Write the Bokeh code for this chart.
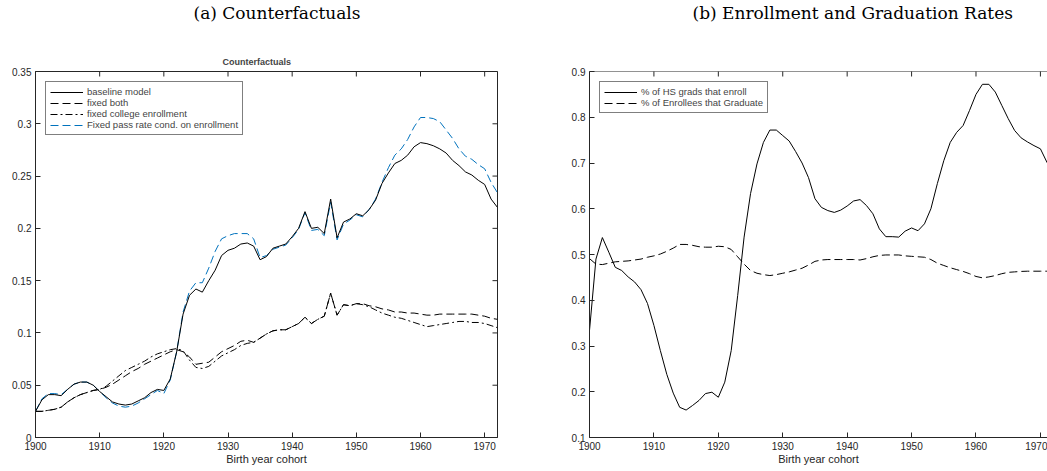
from math import pi

from bokeh.plotting import figure
from bokeh.models import Range1d, FixedTicker, Legend, LegendItem, Span, Title
from bokeh.layouts import row, column
from bokeh.embed import file_html
from bokeh.resources import INLINE

years = list(range(1900, 1973))

baseline = [0.025, 0.036, 0.041, 0.041, 0.040, 0.046, 0.051, 0.053, 0.053, 0.050,
            0.044, 0.039, 0.034, 0.032, 0.031, 0.032, 0.035, 0.038, 0.043, 0.046,
            0.045, 0.056, 0.082, 0.118, 0.136, 0.142, 0.139, 0.150, 0.160, 0.174,
            0.179, 0.181, 0.185, 0.186, 0.183, 0.170, 0.173, 0.181, 0.183, 0.185,
            0.192, 0.200, 0.216, 0.200, 0.201, 0.195, 0.228, 0.191, 0.206, 0.209,
            0.214, 0.212, 0.218, 0.227, 0.243, 0.253, 0.262, 0.265, 0.270, 0.278,
            0.282, 0.281, 0.279, 0.276, 0.272, 0.265, 0.260, 0.254, 0.251, 0.246,
            0.242, 0.228, 0.220]
fixed_both = [0.025, 0.025, 0.026, 0.027, 0.029, 0.034, 0.038, 0.041, 0.043, 0.045,
              0.046, 0.048, 0.051, 0.055, 0.059, 0.063, 0.066, 0.070, 0.073, 0.076,
              0.079, 0.082, 0.084, 0.082, 0.077, 0.070, 0.071, 0.072, 0.077, 0.082,
              0.085, 0.088, 0.092, 0.093, 0.091, 0.095, 0.099, 0.102, 0.103, 0.103,
              0.106, 0.109, 0.115, 0.109, 0.113, 0.116, 0.138, 0.117, 0.127, 0.126,
              0.128, 0.128, 0.126, 0.125, 0.123, 0.122, 0.120, 0.120, 0.119, 0.119,
              0.118, 0.117, 0.117, 0.118, 0.118, 0.118, 0.118, 0.118, 0.118, 0.117,
              0.116, 0.114, 0.113]
fixed_enroll = [0.025, 0.025, 0.026, 0.027, 0.029, 0.034, 0.038, 0.041, 0.043, 0.045,
                0.046, 0.049, 0.054, 0.059, 0.064, 0.067, 0.070, 0.073, 0.077, 0.080,
                0.082, 0.084, 0.085, 0.083, 0.074, 0.067, 0.066, 0.068, 0.073, 0.078,
                0.081, 0.084, 0.088, 0.090, 0.091, 0.095, 0.099, 0.102, 0.103, 0.103,
                0.106, 0.109, 0.115, 0.109, 0.113, 0.116, 0.138, 0.117, 0.127, 0.126,
                0.128, 0.127, 0.125, 0.122, 0.119, 0.117, 0.115, 0.114, 0.112, 0.110,
                0.108, 0.106, 0.107, 0.108, 0.109, 0.110, 0.111, 0.111, 0.110, 0.110,
                0.109, 0.107, 0.105]
fixed_pass = [0.025, 0.037, 0.042, 0.042, 0.041, 0.046, 0.051, 0.053, 0.053, 0.050,
              0.044, 0.038, 0.033, 0.030, 0.029, 0.030, 0.033, 0.037, 0.041, 0.045,
              0.042, 0.055, 0.082, 0.120, 0.140, 0.148, 0.148, 0.162, 0.178, 0.190,
              0.193, 0.195, 0.195, 0.195, 0.190, 0.172, 0.174, 0.180, 0.182, 0.184,
              0.191, 0.199, 0.215, 0.198, 0.199, 0.193, 0.225, 0.189, 0.204, 0.208,
              0.213, 0.211, 0.218, 0.228, 0.244, 0.258, 0.270, 0.276, 0.285, 0.297,
              0.306, 0.306, 0.305, 0.302, 0.294, 0.286, 0.276, 0.269, 0.266, 0.261,
              0.257, 0.244, 0.234]

enroll_rate = [0.334, 0.490, 0.537, 0.505, 0.472, 0.465, 0.451, 0.440, 0.423, 0.393,
               0.345, 0.290, 0.238, 0.197, 0.166, 0.160, 0.170, 0.181, 0.196, 0.199,
               0.188, 0.221, 0.290, 0.410, 0.538, 0.633, 0.698, 0.745, 0.772, 0.772,
               0.760, 0.748, 0.725, 0.700, 0.668, 0.622, 0.603, 0.596, 0.592, 0.597,
               0.606, 0.617, 0.620, 0.607, 0.589, 0.556, 0.539, 0.539, 0.538, 0.551,
               0.558, 0.552, 0.567, 0.600, 0.655, 0.705, 0.745, 0.767, 0.782, 0.815,
               0.850, 0.872, 0.872, 0.855, 0.826, 0.797, 0.771, 0.755, 0.746, 0.738,
               0.731, 0.702, 0.680]
grad_rate = [0.491, 0.479, 0.478, 0.481, 0.484, 0.485, 0.486, 0.488, 0.490, 0.494,
             0.497, 0.501, 0.507, 0.514, 0.522, 0.522, 0.520, 0.517, 0.516, 0.516,
             0.518, 0.517, 0.511, 0.495, 0.479, 0.465, 0.459, 0.456, 0.454, 0.456,
             0.459, 0.462, 0.466, 0.470, 0.477, 0.485, 0.488, 0.489, 0.489, 0.489,
             0.489, 0.489, 0.488, 0.491, 0.495, 0.498, 0.499, 0.499, 0.499, 0.497,
             0.496, 0.495, 0.494, 0.489, 0.481, 0.476, 0.471, 0.467, 0.463, 0.458,
             0.452, 0.449, 0.451, 0.454, 0.458, 0.461, 0.462, 0.463, 0.4635, 0.4635,
             0.4635, 0.4635, 0.4635]

x_ticks = [1900, 1910, 1920, 1930, 1940, 1950, 1960, 1970]
x_labels = ["1900", "1910", "1920", "1930", "1940", "1950", "1960", "1970"]
left_y_ticks = [0, 0.05, 0.1, 0.15, 0.2, 0.25, 0.3, 0.35]
left_y_labels = ["0", "0.05", "0.1", "0.15", "0.2", "0.25", "0.3", "0.35"]
right_y_ticks = [0.1, 0.2, 0.3, 0.4, 0.5, 0.6, 0.7, 0.8, 0.9]
right_y_labels = ["0.1", "0.2", "0.3", "0.4", "0.5", "0.6", "0.7", "0.8", "0.9"]

AX = "#262626"
SANS = "Liberation Sans"
BLUE = "#0072BD"
CAP_H = 28


def style_axis(ax, ticks, labels):
    ax.ticker = FixedTicker(ticks=ticks)
    ax.axis_line_color = AX
    ax.major_tick_line_color = AX
    ax.major_tick_in = 5
    ax.major_tick_out = 0
    ax.minor_tick_line_color = None
    ax.major_label_overrides = dict(zip(ticks, labels))
    ax.major_label_text_font = SANS
    ax.major_label_text_font_size = "10px"
    ax.major_label_text_color = AX
    ax.major_label_standoff = 4


def caption_fig(width, text, offset):
    # a strip that only carries the sub-figure caption
    c = figure(width=width, height=CAP_H, output_backend="svg", toolbar_location=None,
               x_axis_type=None, y_axis_type=None, min_border=0, title=text)
    c.outline_line_color = None
    c.grid.visible = False
    c.title.text_font = "DejaVu Serif"
    c.title.text_font_size = "17px"
    c.title.text_font_style = "normal"
    c.title.text_color = "black"
    c.title.align = "left"
    c.title.offset = offset
    c.title.vertical_align = "middle"
    c.title.standoff = 2
    return c


def make_fig(width, x_end, y_lo, y_hi, y_ticks, y_labels, left_border, right_border):
    p = figure(width=width, height=471 - CAP_H, x_range=Range1d(1900, x_end),
               y_range=Range1d(y_lo, y_hi), output_backend="svg", toolbar_location=None,
               min_border_left=left_border, min_border_right=right_border,
               min_border_top=71 - CAP_H, min_border_bottom=34)
    p.grid.visible = False
    p.background_fill_color = "white"
    p.border_fill_color = "white"
    style_axis(p.xaxis[0], x_ticks, x_labels)
    style_axis(p.yaxis[0], y_ticks, y_labels)
    p.xaxis[0].axis_label = "Birth year cohort"
    p.xaxis[0].axis_label_text_font = SANS
    p.xaxis[0].axis_label_text_font_size = "11px"
    p.xaxis[0].axis_label_text_font_style = "normal"
    p.xaxis[0].axis_label_text_color = AX
    p.xaxis[0].axis_label_standoff = 0
    # inward ticks along the top edge (half of each dash is clipped by the frame)
    p.scatter(x_ticks, [y_hi] * len(x_ticks), marker="dash", angle=pi / 2, size=10,
              line_color=AX, line_width=1)
    return p


def style_legend(leg):
    leg.location = "top_left"
    leg.margin = 10
    leg.padding = 4
    leg.spacing = 0
    leg.label_height = 10
    leg.glyph_height = 10
    leg.glyph_width = 33
    leg.label_standoff = 4
    leg.label_text_font = SANS
    leg.label_text_font_size = "9.5px"
    leg.border_line_color = "black"
    leg.border_line_width = 0.75
    leg.background_fill_alpha = 1


# (a) counterfactuals
p1 = make_fig(538, 1972, 0, 0.35, left_y_ticks, left_y_labels, 35, 41)
p1.outline_line_color = AX
p1.outline_line_alpha = 1
p1.scatter([1972] * len(left_y_ticks), left_y_ticks, marker="dash", size=10,
           line_color=AX, line_width=1)
p1.title.text = "Counterfactuals"
p1.title.text_font = SANS
p1.title.text_font_size = "9px"
p1.title.text_font_style = "bold"
p1.title.align = "left"
p1.title.offset = 187
p1.title.standoff = 9

r_pass = p1.line(years, fixed_pass, line_color=BLUE, line_width=1, line_dash="8 4")
r_both = p1.line(years, fixed_both, line_color="black", line_width=1, line_dash="8 4")
r_enr = p1.line(years, fixed_enroll, line_color="black", line_width=1, line_dash="7 3 2 3")
r_base = p1.line(years, baseline, line_color="black", line_width=1)

leg1 = Legend(items=[LegendItem(label="baseline model", renderers=[r_base]),
                     LegendItem(label="fixed both", renderers=[r_both]),
                     LegendItem(label="fixed college enrollment", renderers=[r_enr]),
                     LegendItem(label="Fixed pass rate cond. on enrollment", renderers=[r_pass])])
style_legend(leg1)
p1.add_layout(leg1)

# (b) enrollment and graduation rates
p2 = make_fig(509, 1971.1, 0.1, 0.9, right_y_ticks, right_y_labels, 51, 0)
p2.outline_line_color = None
p2.add_layout(Span(location=0.9, dimension="width", line_color=AX, line_width=1))

r_enroll = p2.line(years, enroll_rate, line_color="black", line_width=1)
r_grad = p2.line(years, grad_rate, line_color="black", line_width=1, line_dash="8 4")

leg2 = Legend(items=[LegendItem(label="% of HS grads that enroll", renderers=[r_enroll]),
                     LegendItem(label="% of Enrollees that Graduate", renderers=[r_grad])])
style_legend(leg2)
p2.add_layout(leg2)

cap1 = caption_fig(538, "(a) Counterfactuals", 193)
cap2 = caption_fig(509, "(b) Enrollment and Graduation Rates", 154)

layout = column(row(cap1, cap2, spacing=0), row(p1, p2, spacing=0), spacing=0)
open("out.html", "w").write(file_html(layout, INLINE))
